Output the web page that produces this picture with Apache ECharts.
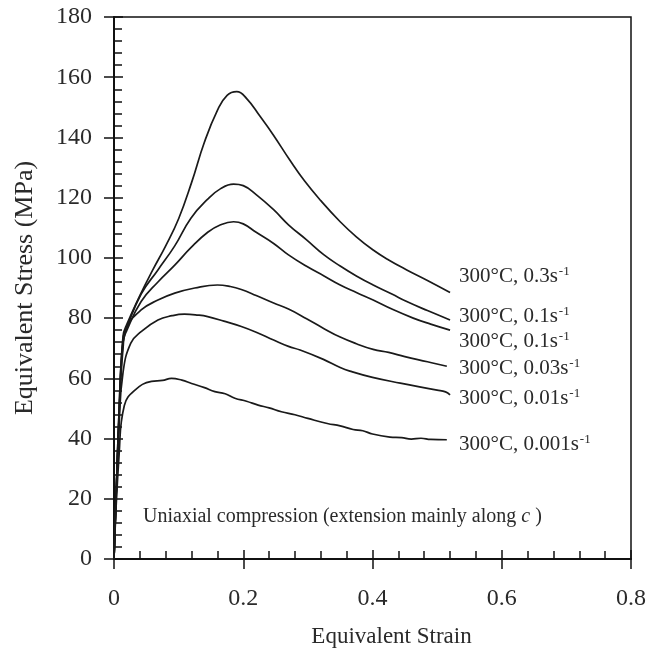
<!DOCTYPE html>
<html>
<head>
<meta charset="utf-8">
<script src="https://cdn.jsdelivr.net/npm/echarts@6/dist/echarts.min.js"></script>
<style>
html,body{margin:0;padding:0;background:#fff;}
#chart{width:651px;height:666px;}
</style>
</head>
<body>
<div id="chart"></div>
<script>
// Axis ticks
const xTicks = [0, 0.2, 0.4, 0.6, 0.8];
const yTicks = [0, 20, 40, 60, 80, 100, 120, 140, 160, 180];

// Curves: [equivalent strain, equivalent stress (MPa)]
const curve03 = [[0,0],[0.008,50],[0.014,74],[0.02,78],[0.04,87.5],[0.06,96],[0.08,104],[0.1,113],[0.12,125],[0.14,138.5],[0.16,149],[0.175,154],[0.19,155.2],[0.205,153],[0.226,147],[0.246,141],[0.272,132.5],[0.295,125.5],[0.32,119],[0.35,112],[0.375,107],[0.401,102.6],[0.425,99.3],[0.453,96],[0.485,92.5],[0.52,88.5]];
const curve01a = [[0,0],[0.008,50],[0.014,73],[0.02,77],[0.042,88],[0.068,96],[0.094,104],[0.119,113.2],[0.145,119.5],[0.165,123],[0.185,124.5],[0.2,124],[0.22,121],[0.247,116],[0.27,111],[0.298,106],[0.325,101],[0.35,97.3],[0.375,94],[0.401,91],[0.43,88],[0.453,85.5],[0.485,82.5],[0.52,79.4]];
const curve01b = [[0,0],[0.008,48],[0.014,72],[0.02,76],[0.042,85.5],[0.068,92],[0.094,97.6],[0.119,103.4],[0.145,108.5],[0.165,111],[0.185,112],[0.2,111.3],[0.22,108.5],[0.247,104.8],[0.27,101],[0.298,97.2],[0.325,94],[0.35,91],[0.375,88.5],[0.401,86],[0.43,83],[0.463,80],[0.49,78],[0.52,76]];
const curve003 = [[0,0],[0.008,48],[0.014,70],[0.02,77],[0.042,82.7],[0.068,86],[0.094,88.3],[0.125,90],[0.16,91],[0.18,90.5],[0.197,89.5],[0.22,87.5],[0.247,85],[0.27,83],[0.298,79.8],[0.325,76.5],[0.35,73.7],[0.375,71.5],[0.401,69.6],[0.425,68.6],[0.45,67.2],[0.485,65.5],[0.515,64]];
const curve001 = [[0,0],[0.008,45],[0.014,62],[0.026,71.7],[0.042,75.5],[0.068,79.4],[0.09,80.8],[0.109,81.3],[0.13,81],[0.145,80.5],[0.17,79],[0.197,77.2],[0.22,75.3],[0.247,72.7],[0.27,70.6],[0.288,69.4],[0.324,66.3],[0.35,63.6],[0.365,62.4],[0.4,60.3],[0.443,58.4],[0.5,56.1],[0.513,55.5],[0.52,54.5]];
const curve0001 = [[0,0],[0.008,35],[0.016,51],[0.032,56],[0.058,59],[0.075,59.3],[0.089,60],[0.105,59.4],[0.12,58.3],[0.14,56.9],[0.156,55.6],[0.172,54.9],[0.187,53.4],[0.205,52.4],[0.223,51.1],[0.24,50.2],[0.259,48.9],[0.28,47.9],[0.3,46.7],[0.33,45],[0.35,44.2],[0.37,43],[0.385,42.6],[0.4,41.5],[0.427,40.5],[0.445,40.3],[0.46,39.8],[0.475,40.1],[0.49,39.7],[0.515,39.6]];

const seriesList = [curve03, curve01a, curve01b, curve003, curve001, curve0001];

// Annotation texts
const curveLabels = [
  '300°C, 0.3s{sup|-1}',
  '300°C, 0.1s{sup|-1}',
  '300°C, 0.1s{sup|-1}',
  '300°C, 0.03s{sup|-1}',
  '300°C, 0.01s{sup|-1}',
  '300°C, 0.001s{sup|-1}'
];
const labelY = [276, 316, 341, 368, 398, 444];
const noteText = 'Uniaxial compression (extension mainly along {it|c} )';

const serif = '"Liberation Serif", "Times New Roman", serif';
const textColor = '#2a2a2a';

const chart = echarts.init(document.getElementById('chart'), null, {renderer: 'canvas'});

const gridBox = {left: 114, right: 20, top: 17, bottom: 107};

const option = {
  backgroundColor: '#fff',
  animation: false,
  grid: [
    Object.assign({show: true, borderColor: '#111', borderWidth: 1.5, backgroundColor: 'transparent'}, gridBox),
    Object.assign({show: false}, gridBox)
  ],
  xAxis: [
    {
      gridIndex: 0, type: 'value', min: 0, max: 0.8, interval: 0.2,
      name: 'Equivalent Strain', nameLocation: 'middle', nameGap: 66,
      nameTextStyle: {fontFamily: serif, fontSize: 23, color: textColor, padding: [0, 0, 0, 38]},
      axisLine: {show: true, lineStyle: {color: '#111', width: 2}},
      axisTick: {show: true, inside: true, length: 9, lineStyle: {color: '#111', width: 1.5}},
      minorTick: {show: true, splitNumber: 5, length: 8, lineStyle: {color: '#111', width: 1.5}},
      axisLabel: {fontFamily: serif, fontSize: 24, color: textColor, margin: 28,
        formatter: v => String(xTicks.find(t => Math.abs(t - v) < 1e-9) ?? v)},
      splitLine: {show: false}
    },
    {
      gridIndex: 1, type: 'value', min: 0, max: 0.8, interval: 0.2,
      axisLine: {show: false},
      axisTick: {show: true, inside: false, length: 10, lineStyle: {color: '#111', width: 1.5}},
      axisLabel: {show: false}, splitLine: {show: false}
    }
  ],
  yAxis: [
    {
      gridIndex: 0, type: 'value', min: 0, max: 180, interval: 20,
      name: 'Equivalent Stress (MPa)', nameLocation: 'middle', nameGap: 76, nameRotate: 90,
      nameTextStyle: {fontFamily: serif, fontSize: 26, color: textColor},
      axisLine: {show: true, lineStyle: {color: '#111', width: 2}},
      axisTick: {show: true, inside: true, length: 9, lineStyle: {color: '#111', width: 1.5}},
      minorTick: {show: true, splitNumber: 5, length: 8, lineStyle: {color: '#111', width: 1.5}},
      axisLabel: {fontFamily: serif, fontSize: 24, color: textColor, margin: 22,
        formatter: v => String(yTicks.find(t => t === v) ?? v)},
      splitLine: {show: false}
    },
    {
      gridIndex: 1, type: 'value', min: 0, max: 180, interval: 20,
      axisLine: {show: false},
      axisTick: {show: true, inside: false, length: 10, lineStyle: {color: '#111', width: 1.5}},
      axisLabel: {show: false}, splitLine: {show: false}
    }
  ],
  series: seriesList.map(d => ({
    type: 'line', xAxisIndex: 0, yAxisIndex: 0, data: d,
    showSymbol: false, smooth: 0.45,
    lineStyle: {color: '#1a1a1a', width: 1.7}
  })),
  graphic: curveLabels.map((t, i) => ({
    type: 'text', x: 459, y: labelY[i], z: 10,
    style: {
      text: t, fill: textColor, font: '21px ' + serif,
      verticalAlign: 'middle', align: 'left',
      rich: {sup: {fontSize: 13, fontFamily: serif, fill: textColor, verticalAlign: 'top', padding: [0, 0, 8, 1]}}
    }
  })).concat([{
    type: 'text', x: 143, y: 517, z: 10,
    style: {
      text: noteText, fill: textColor, font: '20px ' + serif,
      verticalAlign: 'middle', align: 'left',
      rich: {it: {fontStyle: 'italic', fontSize: 20, fontFamily: serif, fill: textColor}}
    }
  }])
};

chart.setOption(option);
</script>
</body>
</html>
